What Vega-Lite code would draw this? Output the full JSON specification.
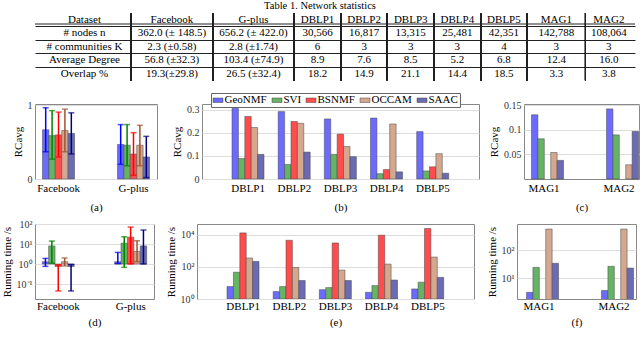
{
 "$schema": "https://vega.github.io/schema/vega-lite/v6.json",
 "padding": {"left": 0, "right": 0, "top": 1, "bottom": 0},
 "background": "white",
 "title": {"text": "Table 1. Network statistics", "fontSize": 10.5, "offset": 1, "anchor": "middle", "font": "Liberation Serif", "fontWeight": "normal"},
 "datasets": {
  "table": [
   {"col":"Dataset","row":"Dataset","v":"Dataset"},
   {"col":"Dataset","row":"# nodes n","v":"# nodes n"},
   {"col":"Dataset","row":"# communities K","v":"# communities K"},
   {"col":"Dataset","row":"Average Degree","v":"Average Degree"},
   {"col":"Dataset","row":"Overlap %","v":"Overlap %"},
   {"col":"Facebook","row":"Dataset","v":"Facebook"},
   {"col":"Facebook","row":"# nodes n","v":"362.0 (± 148.5)"},
   {"col":"Facebook","row":"# communities K","v":"2.3 (±0.58)"},
   {"col":"Facebook","row":"Average Degree","v":"56.8 (±32.3)"},
   {"col":"Facebook","row":"Overlap %","v":"19.3(±29.8)"},
   {"col":"G-plus","row":"Dataset","v":"G-plus"},
   {"col":"G-plus","row":"# nodes n","v":"656.2 (± 422.0)"},
   {"col":"G-plus","row":"# communities K","v":"2.8 (±1.74)"},
   {"col":"G-plus","row":"Average Degree","v":"103.4 (±74.9)"},
   {"col":"G-plus","row":"Overlap %","v":"26.5 (±32.4)"},
   {"col":"DBLP1","row":"Dataset","v":"DBLP1"},
   {"col":"DBLP1","row":"# nodes n","v":"30,566"},
   {"col":"DBLP1","row":"# communities K","v":"6"},
   {"col":"DBLP1","row":"Average Degree","v":"8.9"},
   {"col":"DBLP1","row":"Overlap %","v":"18.2"},
   {"col":"DBLP2","row":"Dataset","v":"DBLP2"},
   {"col":"DBLP2","row":"# nodes n","v":"16,817"},
   {"col":"DBLP2","row":"# communities K","v":"3"},
   {"col":"DBLP2","row":"Average Degree","v":"7.6"},
   {"col":"DBLP2","row":"Overlap %","v":"14.9"},
   {"col":"DBLP3","row":"Dataset","v":"DBLP3"},
   {"col":"DBLP3","row":"# nodes n","v":"13,315"},
   {"col":"DBLP3","row":"# communities K","v":"3"},
   {"col":"DBLP3","row":"Average Degree","v":"8.5"},
   {"col":"DBLP3","row":"Overlap %","v":"21.1"},
   {"col":"DBLP4","row":"Dataset","v":"DBLP4"},
   {"col":"DBLP4","row":"# nodes n","v":"25,481"},
   {"col":"DBLP4","row":"# communities K","v":"3"},
   {"col":"DBLP4","row":"Average Degree","v":"5.2"},
   {"col":"DBLP4","row":"Overlap %","v":"14.4"},
   {"col":"DBLP5","row":"Dataset","v":"DBLP5"},
   {"col":"DBLP5","row":"# nodes n","v":"42,351"},
   {"col":"DBLP5","row":"# communities K","v":"4"},
   {"col":"DBLP5","row":"Average Degree","v":"6.8"},
   {"col":"DBLP5","row":"Overlap %","v":"18.5"},
   {"col":"MAG1","row":"Dataset","v":"MAG1"},
   {"col":"MAG1","row":"# nodes n","v":"142,788"},
   {"col":"MAG1","row":"# communities K","v":"3"},
   {"col":"MAG1","row":"Average Degree","v":"12.4"},
   {"col":"MAG1","row":"Overlap %","v":"3.3"},
   {"col":"MAG2","row":"Dataset","v":"MAG2"},
   {"col":"MAG2","row":"# nodes n","v":"108,064"},
   {"col":"MAG2","row":"# communities K","v":"3"},
   {"col":"MAG2","row":"Average Degree","v":"16.0"},
   {"col":"MAG2","row":"Overlap %","v":"3.8"}
  ],
  "rcA": [
   {"dataset":"Facebook","method":"GeoNMF","value":0.67,"lo":0.37,"hi":0.97},
   {"dataset":"Facebook","method":"SVI","value":0.59,"lo":0.27,"hi":0.93},
   {"dataset":"Facebook","method":"BSNMF","value":0.6,"lo":0.3,"hi":0.91},
   {"dataset":"Facebook","method":"OCCAM","value":0.66,"lo":0.37,"hi":0.95},
   {"dataset":"Facebook","method":"SAAC","value":0.62,"lo":0.34,"hi":0.9},
   {"dataset":"G-plus","method":"GeoNMF","value":0.47,"lo":0.2,"hi":0.74},
   {"dataset":"G-plus","method":"SVI","value":0.46,"lo":0.18,"hi":0.74},
   {"dataset":"G-plus","method":"BSNMF","value":0.34,"lo":0.05,"hi":0.63},
   {"dataset":"G-plus","method":"OCCAM","value":0.46,"lo":0.18,"hi":0.73},
   {"dataset":"G-plus","method":"SAAC","value":0.3,"lo":0.02,"hi":0.58}
  ],
  "rcB": [
   {"dataset":"DBLP1","method":"GeoNMF","value":0.307},
   {"dataset":"DBLP1","method":"SVI","value":0.089},
   {"dataset":"DBLP1","method":"BSNMF","value":0.272},
   {"dataset":"DBLP1","method":"OCCAM","value":0.224},
   {"dataset":"DBLP1","method":"SAAC","value":0.107},
   {"dataset":"DBLP2","method":"GeoNMF","value":0.293},
   {"dataset":"DBLP2","method":"SVI","value":0.063},
   {"dataset":"DBLP2","method":"BSNMF","value":0.25},
   {"dataset":"DBLP2","method":"OCCAM","value":0.242},
   {"dataset":"DBLP2","method":"SAAC","value":0.117},
   {"dataset":"DBLP3","method":"GeoNMF","value":0.261},
   {"dataset":"DBLP3","method":"SVI","value":0.107},
   {"dataset":"DBLP3","method":"BSNMF","value":0.195},
   {"dataset":"DBLP3","method":"OCCAM","value":0.141},
   {"dataset":"DBLP3","method":"SAAC","value":0.097},
   {"dataset":"DBLP4","method":"GeoNMF","value":0.265},
   {"dataset":"DBLP4","method":"SVI","value":0.023},
   {"dataset":"DBLP4","method":"BSNMF","value":0.041},
   {"dataset":"DBLP4","method":"OCCAM","value":0.239},
   {"dataset":"DBLP4","method":"SAAC","value":0.031},
   {"dataset":"DBLP5","method":"GeoNMF","value":0.206},
   {"dataset":"DBLP5","method":"SVI","value":0.035},
   {"dataset":"DBLP5","method":"BSNMF","value":0.053},
   {"dataset":"DBLP5","method":"OCCAM","value":0.11},
   {"dataset":"DBLP5","method":"SAAC","value":0.025}
  ],
  "rcC": [
   {"dataset":"MAG1","method":"GeoNMF","value":0.131},
   {"dataset":"MAG1","method":"SVI","value":0.082},
   {"dataset":"MAG1","method":"OCCAM","value":0.054},
   {"dataset":"MAG1","method":"SAAC","value":0.038},
   {"dataset":"MAG2","method":"GeoNMF","value":0.143},
   {"dataset":"MAG2","method":"SVI","value":0.09},
   {"dataset":"MAG2","method":"OCCAM","value":0.029},
   {"dataset":"MAG2","method":"SAAC","value":0.097}
  ],
  "rtD": [
   {"dataset":"Facebook","method":"GeoNMF","value":1.3,"lo":0.76,"hi":1.9},
   {"dataset":"Facebook","method":"SVI","value":8,"lo":1.1,"hi":14},
   {"dataset":"Facebook","method":"BSNMF","value":0.75,"lo":0.045,"hi":0.9},
   {"dataset":"Facebook","method":"OCCAM","value":1.3,"lo":0.8,"hi":2},
   {"dataset":"Facebook","method":"SAAC","value":0.75,"lo":0.045,"hi":0.95},
   {"dataset":"G-plus","method":"GeoNMF","value":1.3,"lo":1.05,"hi":3.8},
   {"dataset":"G-plus","method":"SVI","value":11,"lo":0.68,"hi":23},
   {"dataset":"G-plus","method":"BSNMF","value":22,"lo":1,"hi":70},
   {"dataset":"G-plus","method":"OCCAM","value":4.2,"lo":1.3,"hi":14.5},
   {"dataset":"G-plus","method":"SAAC","value":8,"lo":1,"hi":50}
  ],
  "rtE": [
   {"dataset":"DBLP1","method":"GeoNMF","value":5.9},
   {"dataset":"DBLP1","method":"SVI","value":46},
   {"dataset":"DBLP1","method":"BSNMF","value":12600},
   {"dataset":"DBLP1","method":"OCCAM","value":350},
   {"dataset":"DBLP1","method":"SAAC","value":215},
   {"dataset":"DBLP2","method":"GeoNMF","value":2.9},
   {"dataset":"DBLP2","method":"SVI","value":5.9},
   {"dataset":"DBLP2","method":"BSNMF","value":4400},
   {"dataset":"DBLP2","method":"OCCAM","value":91},
   {"dataset":"DBLP2","method":"SAAC","value":14},
   {"dataset":"DBLP3","method":"GeoNMF","value":3.8},
   {"dataset":"DBLP3","method":"SVI","value":5.1},
   {"dataset":"DBLP3","method":"BSNMF","value":3000},
   {"dataset":"DBLP3","method":"OCCAM","value":62},
   {"dataset":"DBLP3","method":"SAAC","value":14},
   {"dataset":"DBLP4","method":"GeoNMF","value":2.6},
   {"dataset":"DBLP4","method":"SVI","value":6.8},
   {"dataset":"DBLP4","method":"BSNMF","value":9100},
   {"dataset":"DBLP4","method":"OCCAM","value":147},
   {"dataset":"DBLP4","method":"SAAC","value":15},
   {"dataset":"DBLP5","method":"GeoNMF","value":4.2},
   {"dataset":"DBLP5","method":"SVI","value":11},
   {"dataset":"DBLP5","method":"BSNMF","value":23700},
   {"dataset":"DBLP5","method":"OCCAM","value":400},
   {"dataset":"DBLP5","method":"SAAC","value":22}
  ],
  "rtF": [
   {"dataset":"MAG1","method":"GeoNMF","value":3.2},
   {"dataset":"MAG1","method":"SVI","value":24.4},
   {"dataset":"MAG1","method":"OCCAM","value":550},
   {"dataset":"MAG1","method":"SAAC","value":34},
   {"dataset":"MAG2","method":"GeoNMF","value":3.7},
   {"dataset":"MAG2","method":"SVI","value":26.5},
   {"dataset":"MAG2","method":"OCCAM","value":550},
   {"dataset":"MAG2","method":"SAAC","value":23}
  ]
 },
 "spacing": 23,
 "bounds": "flush",
 "resolve": {"scale": {"x": "independent", "y": "independent", "fill": "independent", "color": "independent"}},
 "vconcat": [
  {
   "width": 600, "height": 67.5, "view": {"stroke": null},
   "data": {"name": "table"},
   "layer": [
    {"mark": {"type": "text", "fontSize": 11, "font": "Liberation Serif", "color": "#000"},
     "encoding": {
      "x": {"field": "col", "type": "nominal",
       "scale": {"domain": ["_0","_1","_2","_3","_4","_5","_6","_7","Dataset","_9","_10","_11","_12","_13","_14","_15","|1","_17","_18","_19","_20","_21","_22","Facebook","_24","_25","_26","_27","_28","_29","|2","_31","_32","_33","_34","_35","_36","G-plus","_38","_39","_40","_41","_42","_43","|3","_45","_46","_47","DBLP1","_49","_50","_51","|4","_53","_54","_55","DBLP2","_57","_58","_59","|5","_61","_62","_63","DBLP3","_65","_66","_67","|6","_69","_70","_71","DBLP4","_73","_74","_75","|7","_77","_78","_79","DBLP5","_81","_82","_83","|8","_85","_86","_87","_88","MAG1","_90","_91","_92","_93","|9","_95","_96","_97","MAG2","_99","_100","_101","_102"]},
       "axis": {"title": null, "labels": false, "ticks": false, "domain": false, "grid": true, "minExtent": 0, "maxExtent": 0, "values": ["|1","|2","|3","|4","|5","|6","|7","|8","|9"], "gridColor": "#222", "gridWidth": 1, "gridOpacity": 1}},
      "y": {"field": "row", "type": "nominal", "scale": {"domain": ["Dataset","# nodes n","# communities K","Average Degree","Overlap %"], "paddingInner": 0, "paddingOuter": 0}, "axis": {"title": null, "labels": false, "ticks": false, "domain": false, "grid": true, "minExtent": 0, "maxExtent": 0, "bandPosition": 0, "values": ["# nodes n","# communities K","Average Degree","Overlap %"], "gridColor": "#222", "gridWidth": 1, "gridOpacity": 1}},
      "text": {"field": "v"}}},
    {"transform": [{"filter": "datum.row == '# nodes n' && datum.col == 'Dataset'"}],
     "mark": {"type": "rule", "yOffset": -2.5, "color": "#222", "strokeWidth": 1},
     "encoding": {"y": {"field": "row", "type": "nominal", "bandPosition": 0}}},
    {"mark": {"type": "rule", "color": "#222", "strokeWidth": 1}, "encoding": {"x": {"datum": "|1", "type": "nominal"}}},
    {"mark": {"type": "rule", "color": "#222", "strokeWidth": 1}, "encoding": {"x": {"datum": "|2", "type": "nominal"}}},
    {"mark": {"type": "rule", "color": "#222", "strokeWidth": 1}, "encoding": {"x": {"datum": "|3", "type": "nominal"}}},
    {"mark": {"type": "rule", "color": "#222", "strokeWidth": 1}, "encoding": {"x": {"datum": "|4", "type": "nominal"}}},
    {"mark": {"type": "rule", "color": "#222", "strokeWidth": 1}, "encoding": {"x": {"datum": "|5", "type": "nominal"}}},
    {"mark": {"type": "rule", "color": "#222", "strokeWidth": 1}, "encoding": {"x": {"datum": "|6", "type": "nominal"}}},
    {"mark": {"type": "rule", "color": "#222", "strokeWidth": 1}, "encoding": {"x": {"datum": "|7", "type": "nominal"}}},
    {"mark": {"type": "rule", "color": "#222", "strokeWidth": 1}, "encoding": {"x": {"datum": "|8", "type": "nominal"}}},
    {"mark": {"type": "rule", "color": "#222", "strokeWidth": 1}, "encoding": {"x": {"datum": "|9", "type": "nominal"}}}
   ]
  },
  {
   "spacing": 5,
   "resolve": {"scale": {"x": "independent", "y": "independent", "fill": "independent", "color": "independent"}},
   "vconcat": [
    {
     "spacing": 45,
     "bounds": "flush",
     "resolve": {"scale": {"x": "independent", "y": "independent", "fill": "independent", "color": "independent"}},
     "hconcat": [
      {
       "width": 122, "height": 75,
       "data": {"name": "rcA"},
       "encoding": {
        "x": {"field": "dataset", "type": "nominal", "sort": null, "scale": {"paddingInner": 0.573, "paddingOuter": 0.1}, "axis": {"title": "(a)", "titlePadding": 8, "labelPadding": 3}},
        "xOffset": {"field": "method", "type": "nominal", "sort": ["GeoNMF","SVI","BSNMF","OCCAM","SAAC"], "scale": {"domain": ["GeoNMF","SVI","BSNMF","OCCAM","SAAC"]}}
       },
       "layer": [
        {"mark": {"type": "bar", "stroke": "#444", "strokeWidth": 0.5},
         "encoding": {
          "y": {"field": "value", "type": "quantitative", "title": "RCavg", "scale": {"domain": [0, 1.02], "nice": false}, "axis": {"values": [0, 0.5, 1], "format": "~g", "grid": true, "titlePadding": 4}},
          "fill": {"field": "method", "type": "nominal", "scale": {"domain": ["GeoNMF","SVI","BSNMF","OCCAM","SAAC"], "range": ["#6b6bff","#66b366","#ff4d4d","#d4a88f","#6b6bb3"]}, "legend": null}}},
        {"mark": {"type": "rule", "strokeWidth": 1.5},
         "encoding": {
          "y": {"field": "lo", "type": "quantitative", "title": "RCavg"}, "y2": {"field": "hi"},
          "color": {"field": "method", "type": "nominal", "scale": {"domain": ["GeoNMF","SVI","BSNMF","OCCAM","SAAC"], "range": ["#0000ff","#008000","#ff0000","#a0522d","#000080"]}, "legend": null}}},
        {"mark": {"type": "tick", "thickness": 1.5, "size": 6},
         "encoding": {
          "y": {"field": "hi", "type": "quantitative", "title": "RCavg"},
          "color": {"field": "method", "type": "nominal", "scale": {"domain": ["GeoNMF","SVI","BSNMF","OCCAM","SAAC"], "range": ["#0000ff","#008000","#ff0000","#a0522d","#000080"]}, "legend": null}}},
        {"mark": {"type": "tick", "thickness": 1.5, "size": 6},
         "encoding": {
          "y": {"field": "lo", "type": "quantitative", "title": "RCavg"},
          "color": {"field": "method", "type": "nominal", "scale": {"domain": ["GeoNMF","SVI","BSNMF","OCCAM","SAAC"], "range": ["#0000ff","#008000","#ff0000","#a0522d","#000080"]}, "legend": null}}}
       ]
      },
      {
       "width": 277, "height": 75,
       "data": {"name": "rcB"},
       "mark": {"type": "bar", "stroke": "#444", "strokeWidth": 0.5},
       "encoding": {
        "x": {"field": "dataset", "type": "nominal", "sort": null, "scale": {"paddingInner": 0.3, "paddingOuter": 0.65}, "axis": {"title": "(b)", "titlePadding": 8, "labelPadding": 3}},
        "xOffset": {"field": "method", "type": "nominal", "sort": ["GeoNMF","SVI","BSNMF","OCCAM","SAAC"], "scale": {"domain": ["GeoNMF","SVI","BSNMF","OCCAM","SAAC"]}},
        "y": {"field": "value", "type": "quantitative", "title": "RCavg", "scale": {"domain": [0, 0.326], "nice": false}, "axis": {"values": [0, 0.1, 0.2, 0.3], "format": "~g", "grid": true, "titlePadding": 4}},
        "fill": {"field": "method", "type": "nominal", "sort": ["GeoNMF","SVI","BSNMF","OCCAM","SAAC"], "scale": {"domain": ["GeoNMF","SVI","BSNMF","OCCAM","SAAC"], "range": ["#6b6bff","#66b366","#ff4d4d","#d4a88f","#6b6bb3"]},
         "legend": {"orient": "none", "legendX": 9, "legendY": -11, "direction": "horizontal", "title": null, "symbolType": "M-1,-0.45H1V0.45H-1Z", "symbolSize": 100, "symbolStrokeColor": "#444", "symbolStrokeWidth": 0.5, "labelFont": "Liberation Serif", "labelFontSize": 11, "labelColor": "#000", "labelOffset": 1, "columnPadding": 3, "strokeColor": "#666", "fillColor": "white", "padding": 1.5}}
       }
      },
      {
       "width": 115, "height": 75,
       "data": {"name": "rcC"},
       "mark": {"type": "bar", "stroke": "#444", "strokeWidth": 0.5},
       "encoding": {
        "x": {"field": "dataset", "type": "nominal", "sort": null, "scale": {"paddingInner": 0.667, "paddingOuter": 0.1}, "axis": {"title": "(c)", "titlePadding": 8, "labelPadding": 3}},
        "xOffset": {"field": "method", "type": "nominal", "sort": ["GeoNMF","SVI","OCCAM","SAAC"], "scale": {"domain": ["GeoNMF","SVI","OCCAM","SAAC"]}},
        "y": {"field": "value", "type": "quantitative", "title": "RCavg", "scale": {"domain": [0, 0.153], "nice": false}, "axis": {"values": [0.05, 0.1, 0.15], "format": "~g", "grid": true, "titlePadding": 4}},
        "fill": {"field": "method", "type": "nominal", "scale": {"domain": ["GeoNMF","SVI","BSNMF","OCCAM","SAAC"], "range": ["#6b6bff","#66b366","#ff4d4d","#d4a88f","#6b6bb3"]}, "legend": null}
       }
      }
     ]
    },
    {
     "spacing": 43,
     "bounds": "flush",
     "resolve": {"scale": {"x": "independent", "y": "independent", "fill": "independent", "color": "independent"}},
     "hconcat": [
      {
       "width": 119, "height": 75,
       "data": {"name": "rtD"},
       "encoding": {
        "x": {"field": "dataset", "type": "nominal", "sort": null, "scale": {"paddingInner": 0.556, "paddingOuter": 0.1}, "axis": {"title": "(d)", "titlePadding": 5}},
        "xOffset": {"field": "method", "type": "nominal", "sort": ["GeoNMF","SVI","BSNMF","OCCAM","SAAC"], "scale": {"domain": ["GeoNMF","SVI","BSNMF","OCCAM","SAAC"]}}
       },
       "layer": [
        {"mark": {"type": "bar", "stroke": "#444", "strokeWidth": 0.5, "clip": true},
         "encoding": {
          "y": {"field": "value", "type": "quantitative", "title": "Running time /s", "scale": {"type": "log", "domain": [0.0178, 100], "nice": false}, "axis": {"values": [0.1, 1, 10, 100], "grid": true, "titlePadding": 4, "labelExpr": "datum.value >= 100 ? '10²' : datum.value >= 10 ? '10¹' : datum.value >= 1 ? '10⁰' : '10⁻¹'"}},
          "y2": {"datum": 1},
          "fill": {"field": "method", "type": "nominal", "scale": {"domain": ["GeoNMF","SVI","BSNMF","OCCAM","SAAC"], "range": ["#6b6bff","#66b366","#ff4d4d","#d4a88f","#6b6bb3"]}, "legend": null}}},
        {"mark": {"type": "rule", "strokeWidth": 1.5},
         "encoding": {
          "y": {"field": "lo", "type": "quantitative", "title": "Running time /s"}, "y2": {"field": "hi"},
          "color": {"field": "method", "type": "nominal", "scale": {"domain": ["GeoNMF","SVI","BSNMF","OCCAM","SAAC"], "range": ["#0000ff","#008000","#ff0000","#a0522d","#000080"]}, "legend": null}}},
        {"mark": {"type": "tick", "thickness": 1.5, "size": 6},
         "encoding": {
          "y": {"field": "hi", "type": "quantitative", "title": "Running time /s"},
          "color": {"field": "method", "type": "nominal", "scale": {"domain": ["GeoNMF","SVI","BSNMF","OCCAM","SAAC"], "range": ["#0000ff","#008000","#ff0000","#a0522d","#000080"]}, "legend": null}}},
        {"mark": {"type": "tick", "thickness": 1.5, "size": 6},
         "encoding": {
          "y": {"field": "lo", "type": "quantitative", "title": "Running time /s"},
          "color": {"field": "method", "type": "nominal", "scale": {"domain": ["GeoNMF","SVI","BSNMF","OCCAM","SAAC"], "range": ["#0000ff","#008000","#ff0000","#a0522d","#000080"]}, "legend": null}}}
       ]
      },
      {
       "width": 277, "height": 75,
       "data": {"name": "rtE"},
       "mark": {"type": "bar", "stroke": "#444", "strokeWidth": 0.5, "clip": true},
       "encoding": {
        "x": {"field": "dataset", "type": "nominal", "sort": null, "scale": {"paddingInner": 0.3, "paddingOuter": 0.65}, "axis": {"title": "(e)", "titlePadding": 5}},
        "xOffset": {"field": "method", "type": "nominal", "sort": ["GeoNMF","SVI","BSNMF","OCCAM","SAAC"], "scale": {"domain": ["GeoNMF","SVI","BSNMF","OCCAM","SAAC"]}},
        "y": {"field": "value", "type": "quantitative", "title": "Running time /s", "scale": {"type": "log", "domain": [1, 45000], "nice": false}, "axis": {"values": [1, 100, 10000], "grid": true, "titlePadding": 4, "labelExpr": "datum.value >= 10000 ? '10⁴' : datum.value >= 100 ? '10²' : '10⁰'"}},
        "y2": {"datum": 1},
        "fill": {"field": "method", "type": "nominal", "scale": {"domain": ["GeoNMF","SVI","BSNMF","OCCAM","SAAC"], "range": ["#6b6bff","#66b366","#ff4d4d","#d4a88f","#6b6bb3"]}, "legend": null}
       }
      },
      {
       "width": 119, "height": 75,
       "data": {"name": "rtF"},
       "mark": {"type": "bar", "stroke": "#444", "strokeWidth": 0.5, "clip": true},
       "encoding": {
        "x": {"field": "dataset", "type": "nominal", "sort": null, "scale": {"paddingInner": 0.667, "paddingOuter": 0.127}, "axis": {"title": "(f)", "titlePadding": 5}},
        "xOffset": {"field": "method", "type": "nominal", "sort": ["GeoNMF","SVI","OCCAM","SAAC"], "scale": {"domain": ["GeoNMF","SVI","OCCAM","SAAC"]}},
        "y": {"field": "value", "type": "quantitative", "title": "Running time /s", "scale": {"type": "log", "domain": [1.86, 830], "nice": false}, "axis": {"values": [10, 100], "grid": true, "titlePadding": 4, "labelExpr": "datum.value >= 100 ? '10²' : '10¹'"}},
        "y2": {"datum": 1},
        "fill": {"field": "method", "type": "nominal", "scale": {"domain": ["GeoNMF","SVI","BSNMF","OCCAM","SAAC"], "range": ["#6b6bff","#66b366","#ff4d4d","#d4a88f","#6b6bb3"]}, "legend": null}
       }
      }
     ]
    }
   ]
  }
 ],
 "config": {
  "font": "Liberation Serif",
  "view": {"stroke": "#888", "strokeWidth": 1},
  "axis": {"labelFont": "Liberation Serif", "titleFont": "Liberation Serif", "labelFontSize": 10, "titleFontSize": 11, "titleFontWeight": "normal", "labelColor": "#333", "titleColor": "#000", "gridColor": "#dddddd", "domain": false, "ticks": false, "labelPadding": 3},
  "axisX": {"labelAngle": 0, "labelFontSize": 11, "labelColor": "#000", "labelPadding": 1},
  "title": {"font": "Liberation Serif", "fontWeight": "normal"}
 }
}
